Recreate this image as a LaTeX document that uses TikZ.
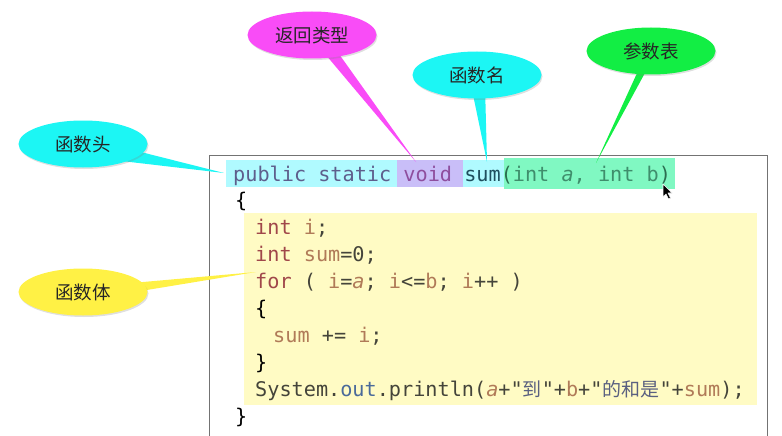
\documentclass[tikz,border=0pt]{standalone}
\usepackage{fontspec}
\setmonofont{DejaVu Sans Mono}
\newfontfamily\cjkf{Noto Sans CJK SC}
\usetikzlibrary{shapes.geometric,shadows,calc}
\definecolor{cMag}{HTML}{F94CF7}
\definecolor{cCyan}{HTML}{1CF6F4}
\definecolor{cGreen}{HTML}{12EE44}
\definecolor{cYel}{HTML}{FFF145}
\definecolor{hCyan}{HTML}{B0FAFF}
\definecolor{hPur}{HTML}{C9BEF8}
\definecolor{hGreen}{HTML}{80F8C2}
\definecolor{hYel}{HTML}{FFFBC4}
\definecolor{kw}{HTML}{5E5E8C}
\definecolor{vd}{HTML}{8E4E9E}
\definecolor{fn}{HTML}{1E4F5E}
\definecolor{pg}{HTML}{2B6E50}
\definecolor{pa}{HTML}{3F8E6C}
\definecolor{ty}{HTML}{A0474A}
\definecolor{vr}{HTML}{B07A58}
\definecolor{op}{HTML}{44443A}
\definecolor{ot}{HTML}{4A6A9A}
\definecolor{st}{HTML}{5A6080}
\newcommand\cj[1]{{\cjkf\fontsize{19}{19}\selectfont #1}}
\begin{document}
\begin{tikzpicture}[x=1pt,y=-1pt,
  bubble/.style={ellipse, minimum width=129pt, minimum height=47pt, inner sep=0pt,
    font=\cjkf\fontsize{18.5}{18.5}\selectfont, text=black!85,
    drop shadow={opacity=0.25, shadow xshift=1pt, shadow yshift=-1.5pt}},
  code/.style={anchor=base west, inner sep=0pt, font=\ttfamily\fontsize{20.2}{24}\selectfont, text=op}]
\useasboundingbox (0,0) rectangle (782,436);
% highlights
\fill[hYel] (244,213) rectangle (757,405);
\fill[hCyan] (226,160) rectangle (398,187);
\fill[hPur] (397,160) rectangle (463,187);
\fill[hCyan] (463,160) rectangle (504,187);
\fill[hGreen] (504,158) rectangle (675,189);
% box
\draw[black!55, line width=0.9pt] (209,436) -- (209,155) -- (767,155) -- (767,436);
% code
\node[code] (l0) at (233,181) {{\color{kw}public static }{\color{vd}void} {\color{fn}sum}{\color{pg}(}{\color{pa}int {\itshape a}, int b}{\color{pg})}};
\node[code, text=black] (l1) at (235,207) {\{};
\node[code] (l2) at (255,234) {{\color{ty}int} {\color{vr}i};};
\node[code] (l3) at (255,261) {{\color{ty}int} {\color{vr}sum}=0;};
\node[code] (l4) at (255,288) {{\color{ty}for} ( {\color{vr}i}={\color{vr}\itshape a}; {\color{vr}i}<={\color{vr}b}; {\color{vr}i}++ )};
\node[code, text=black] (l5) at (255,315) {\{};
\node[code] (l6) at (273,342) {{\color{vr}sum} += {\color{vr}i};};
\node[code, text=black] (l7) at (255,369) {\}};
\node[code] (l8) at (255,396) {System.{\color{ot}out}.println({\color{vr}\itshape a}+"{\color{st}\cj{到}}"+{\color{vr}b}+"{\color{st}\cj{的和是}}"+{\color{vr}sum});};
\node[code, text=black] (l9) at (235,423) {\}};
% callouts
\coordinate (headTip) at (224,173);
\coordinate (retTip) at (416,162);
\coordinate (nameTip) at (487,162);
\coordinate (parTip) at (596,163);
\coordinate (bodyTip) at (256,272);
\coordinate (headC) at (83,144);
\coordinate (retC) at (312,35);
\coordinate (nameC) at (477,75);
\coordinate (parC) at (651,51);
\coordinate (bodyC) at (83,292);
\fill[cCyan] ($(headC)+(42,4)$) -- (headTip) -- ($(headC)+(30,16)$) -- cycle;
\fill[cMag] ($(retC)+(3,7)$) -- (retTip) -- ($(retC)+(17,5)$) -- cycle;
\fill[cCyan] ($(nameC)+(-6,10)$) -- (nameTip) -- ($(nameC)+(8,10)$) -- cycle;
\fill[cGreen] ($(parC)+(-8,9)$) -- (parTip) -- ($(parC)+(1,9)$) -- cycle;
\fill[cYel] ($(bodyC)+(42,-8.4)$) -- (bodyTip) -- ($(bodyC)+(42,1.6)$) -- cycle;
\node[bubble, fill=cCyan] (head) at (headC) {函数头};
\node[bubble, fill=cMag] (ret) at (retC) {返回类型};
\node[bubble, fill=cCyan] (name) at (nameC) {函数名};
\node[bubble, fill=cGreen] (par) at (parC) {参数表};
\node[bubble, fill=cYel] (body) at (bodyC) {函数体};
% cursor
\filldraw[fill=black, draw=white, line width=0.6pt, line join=round]
  (663,184) -- (663,197) -- (666,194) -- (668.5,199) -- (670.5,198) -- (668,193) -- (672,193) -- cycle;
\end{tikzpicture}
\end{document}
